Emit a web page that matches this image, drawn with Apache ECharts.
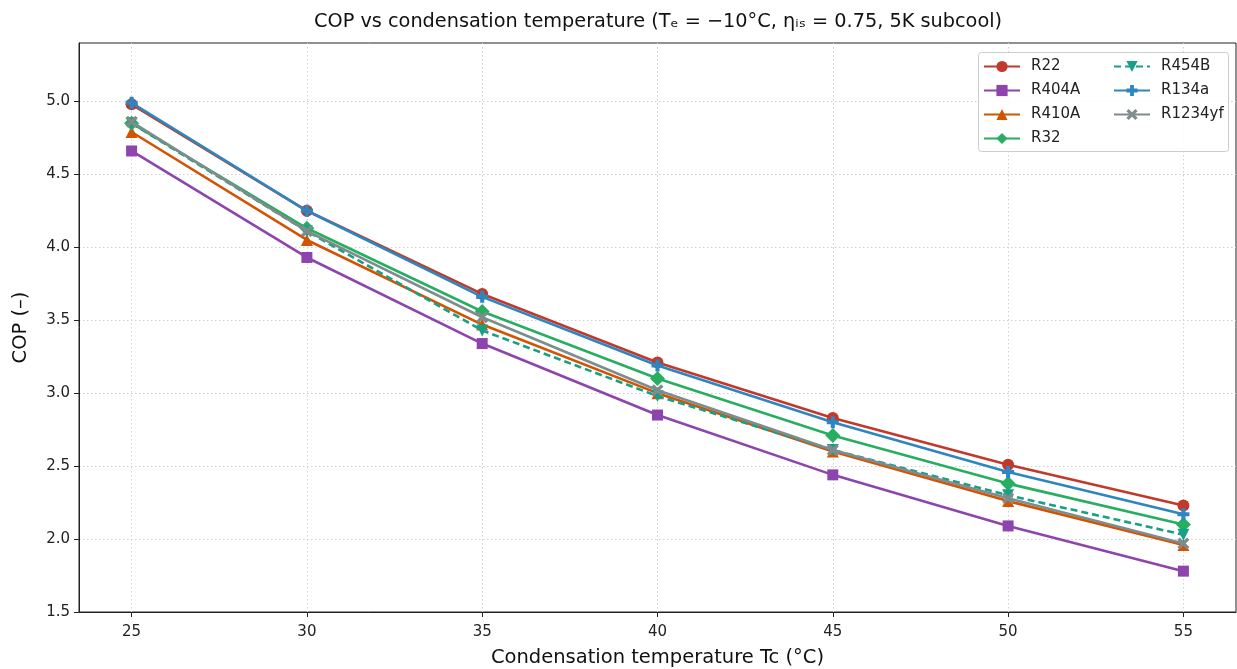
<!DOCTYPE html>
<html>
<head>
<meta charset="utf-8">
<script src="https://cdn.jsdelivr.net/npm/echarts@6/dist/echarts.min.js"></script>
<style>html,body{margin:0;padding:0;background:#fff;}#c{width:1237px;height:669px;}</style>
</head>
<body>
<div id="c"></div>
<script>
const temps = [25, 30, 35, 40, 45, 50, 55];
const R22 = [4.98, 4.25, 3.68, 3.21, 2.83, 2.51, 2.23];
const R404A = [4.66, 3.93, 3.34, 2.85, 2.44, 2.09, 1.78];
const R410A = [4.79, 4.05, 3.47, 3.00, 2.60, 2.26, 1.96];
const R32 = [4.85, 4.13, 3.56, 3.10, 2.71, 2.38, 2.10];
const R454B = [4.85, 4.11, 3.43, 2.98, 2.61, 2.30, 2.03];
const R134a = [4.99, 4.25, 3.66, 3.19, 2.80, 2.46, 2.17];
const R1234yf = [4.86, 4.11, 3.52, 3.02, 2.61, 2.28, 1.97];
const xTicks = [25, 30, 35, 40, 45, 50, 55];
const yTicks = [1.5, 2.0, 2.5, 3.0, 3.5, 4.0, 4.5, 5.0];

const FONT = 'DejaVu Sans';
const triDown = 'path://M0,0 L10,0 L5,9 Z';
const plusP = 'path://M3.3,0 H6.7 V3.3 H10 V6.7 H6.7 V10 H3.3 V6.7 H0 V3.3 H3.3 Z';
const xX = 'path://M2,0 L5,3 L8,0 L10,2 L7,5 L10,8 L8,10 L5,7 L2,10 L0,8 L3,5 L0,2 Z';

const defs = [
  {name: 'R22', data: R22, color: '#c0392b', symbol: 'circle', size: 12},
  {name: 'R404A', data: R404A, color: '#8e44ad', symbol: 'rect', size: 11},
  {name: 'R410A', data: R410A, color: '#d35400', symbol: 'triangle', size: 12},
  {name: 'R32', data: R32, color: '#27ae60', symbol: 'diamond', size: 15},
  {name: 'R454B', data: R454B, color: '#16a085', symbol: triDown, size: 12, dashed: true},
  {name: 'R134a', data: R134a, color: '#2e86c1', symbol: plusP, size: 12},
  {name: 'R1234yf', data: R1234yf, color: '#7f8c8d', symbol: xX, size: 12}
];

const series = defs.map((d, i) => ({
  name: d.name,
  type: 'line',
  data: temps.map((t, k) => [t, d.data[k]]),
  symbol: d.symbol,
  symbolSize: d.size,
  showSymbol: true,
  z: 2 + i,
  itemStyle: {color: d.color, opacity: 1},
  lineStyle: {color: d.color, width: 2.6, type: d.dashed ? [7, 4] : 'solid'},
  emphasis: {disabled: true},
  animation: false
}));

const legendCommon = {
  orient: 'vertical',
  padding: 0,
  z: 100,
  itemWidth: 36,
  itemHeight: 14,
  itemGap: 9,
  textStyle: {fontFamily: FONT, fontSize: 15, color: '#222', padding: [0, 0, 0, 6]},
  selectedMode: false
};

const chart = echarts.init(document.getElementById('c'), null, {renderer: 'canvas'});
chart.setOption({
  animation: false,
  backgroundColor: '#fff',
  title: {
    text: 'COP vs condensation temperature (Tₑ = −10°C, ηᵢₛ = 0.75, 5K subcool)',
    left: 309,
    top: 7,
    textStyle: {fontFamily: FONT, fontSize: 19.3, fontWeight: 'normal', color: '#111'}
  },
  grid: {left: 79, top: 43, right: 1, bottom: 57, outerBoundsMode: 'none', containLabel: false,
    show: true, borderColor: '#222', borderWidth: 1, backgroundColor: 'transparent'},
  xAxis: {
    type: 'value', min: 23.5, max: 56.5,
    name: 'Condensation temperature Tc (°C)',
    nameLocation: 'middle', nameGap: 36,
    nameTextStyle: {fontFamily: FONT, fontSize: 19.5, color: '#111'},
    axisLine: {show: true, onZero: false, lineStyle: {color: '#222'}},
    axisTick: {show: true, length: 5, customValues: xTicks, lineStyle: {color: '#222'}},
    axisLabel: {customValues: xTicks, fontFamily: FONT, fontSize: 15, color: '#222', margin: 13},
    splitLine: {show: true, lineStyle: {color: '#d0d0d0', type: [1.5, 2.5], width: 1}}
  },
  yAxis: {
    type: 'value', min: 1.5, max: 5.4,
    name: 'COP (–)',
    nameLocation: 'middle', nameGap: 48, nameRotate: 90,
    nameTextStyle: {fontFamily: FONT, fontSize: 19.5, color: '#111'},
    axisLine: {show: true, onZero: false, lineStyle: {color: '#222'}},
    axisTick: {show: true, length: 5, customValues: yTicks, lineStyle: {color: '#222'}},
    axisLabel: {customValues: yTicks, fontFamily: FONT, fontSize: 15, color: '#222', margin: 9,
      formatter: v => v.toFixed(1)},
    splitLine: {show: true, lineStyle: {color: '#d0d0d0', type: [1.5, 2.5], width: 1}}
  },
  legend: [
    Object.assign({}, legendCommon, {left: 983, top: 59, data: ['R22', 'R404A', 'R410A', 'R32']}),
    Object.assign({}, legendCommon, {left: 1113, top: 59, data: ['R454B', 'R134a', 'R1234yf']})
  ],
  graphic: [{
    type: 'rect', left: 978, top: 52, z: 50,
    shape: {width: 250, height: 99, r: 3},
    style: {fill: 'rgba(255,255,255,0.85)', stroke: '#cccccc', lineWidth: 1}
  }],
  series: series
});
</script>
</body>
</html>
